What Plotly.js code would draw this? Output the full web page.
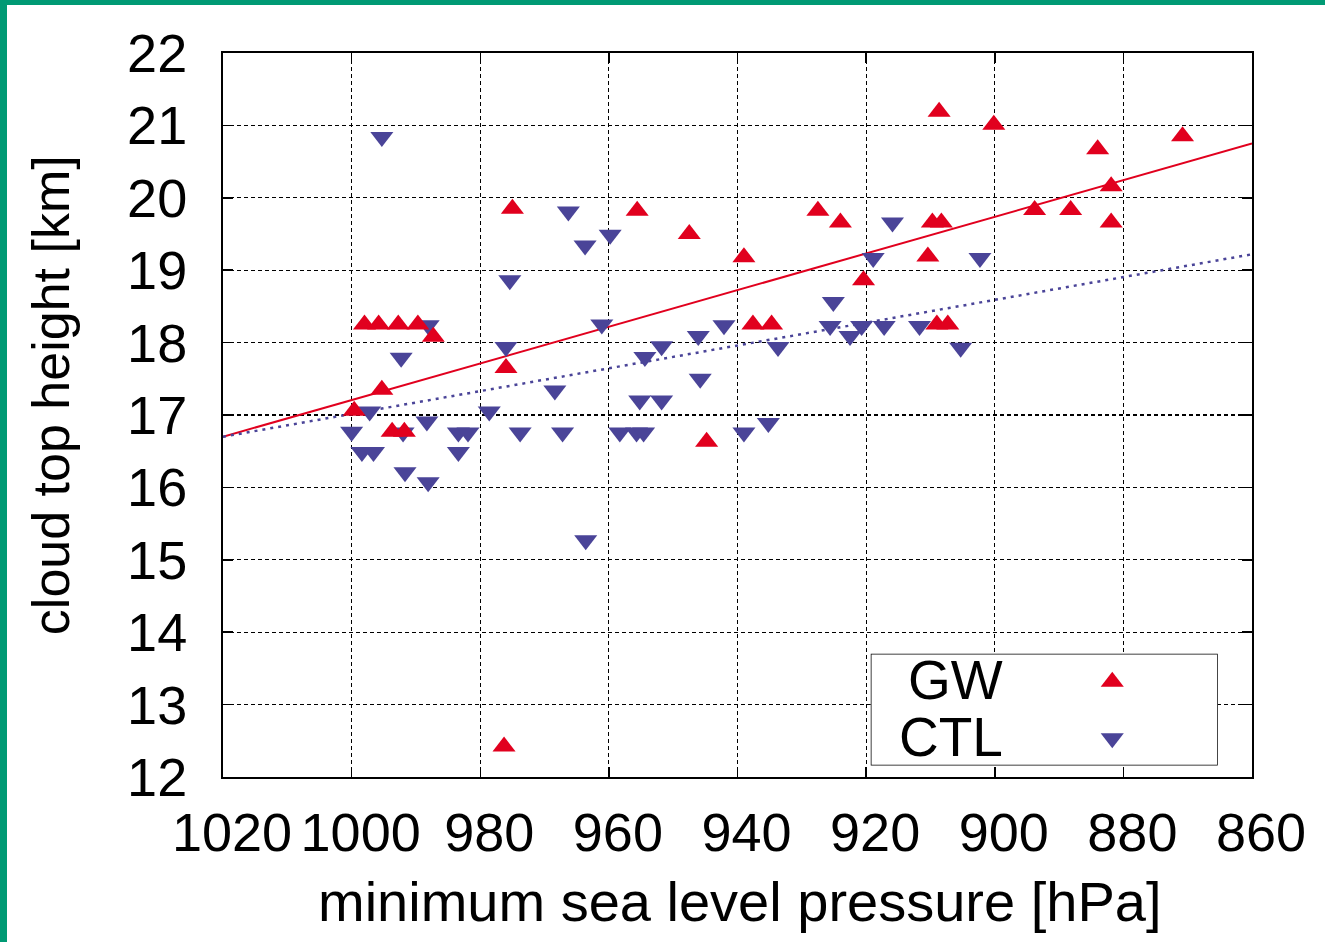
<!DOCTYPE html>
<html>
<head>
<meta charset="utf-8">
<script src="https://cdn.plot.ly/plotly-3.0.1.min.js"></script>
<style>
  html, body { margin: 0; padding: 0; background: #fff; }
  #wrap { position: relative; width: 1325px; height: 942px; overflow: hidden; }
  #chart { width: 1325px; height: 942px; }
  .bar-left { position: absolute; left: 0; top: 0; width: 7px; height: 942px; background: #009a74; }
  .bar-top { position: absolute; left: 0; top: 0; width: 1325px; height: 5px; background: #009a74; }
</style>
</head>
<body>
<div id="wrap">
  <div id="chart"></div>
  <div class="bar-left"></div>
  <div class="bar-top"></div>
</div>
<script>
// ---- data ----
const seriesNames = ["GW", "CTL"];

const gwPressure = [975.0, 998.0, 995.8, 992.75, 989.7, 987.3, 976.0, 995.3, 999.6, 993.7, 991.8,
  955.6, 947.5, 939.0, 937.6, 934.7, 927.5, 924.0, 920.4, 944.8,
  908.65, 900.15, 884.0, 870.8, 881.9, 893.8, 888.2, 881.9, 909.7, 908.3, 910.4, 909.0, 907.3, 976.3];
const gwHeight = [19.85, 18.25, 18.25, 18.25, 18.25, 18.08, 17.65, 17.35, 17.06, 16.77, 16.77,
  19.82, 19.50, 19.18, 18.25, 18.25, 19.82, 19.66, 18.86, 16.63,
  21.19, 21.01, 20.67, 20.85, 20.16, 19.83, 19.83, 19.66, 19.66, 19.66, 19.19, 18.25, 18.25, 12.42];

const ctlPressure = [1000.0, 998.4, 996.6, 997.2, 995.3, 992.3, 992.0, 991.7, 988.3, 988.1, 988.1,
  983.4, 981.9, 983.4, 978.6, 976.0, 975.4, 973.8, 968.4, 967.2, 966.3, 963.7, 963.6, 961.1, 959.8,
  958.3, 955.7, 954.6, 955.2, 951.8, 954.4, 951.8, 946.1, 945.8, 942.1, 939.0, 935.2, 933.7,
  925.1, 925.6, 922.5, 920.7, 917.2, 918.9, 915.9, 911.7, 905.3, 902.3];
const ctlHeight = [16.77, 16.49, 16.49, 17.05, 20.84, 17.79, 16.76, 16.21, 16.91, 16.07, 18.24,
  16.76, 16.76, 16.49, 17.05, 17.94, 18.86, 16.76, 17.34, 16.76, 19.81, 19.34, 15.27, 18.25, 19.49,
  16.76, 16.76, 16.76, 17.20, 17.20, 17.80, 17.95, 18.09, 17.50, 18.24, 16.76, 16.89, 17.94,
  18.56, 18.23, 18.09, 18.23, 18.23, 19.17, 19.66, 18.23, 17.93, 19.17];

// linear fit lines (end points)
const fitPressure = [1020, 860];
const gwFitHeight = [16.70, 20.75];
const ctlFitHeight = [16.70, 19.22];

const xTickVals = [1020, 1000, 980, 960, 940, 920, 900, 880, 860];
const yTickVals = [12, 13, 14, 15, 16, 17, 18, 19, 20, 21, 22];
const xTitle = "minimum sea level pressure [hPa]";
const yTitle = "cloud top height [km]";

// ---- styles ----
const RED = "#e1001e";
const BLUE = "#4a4498";
const FONT = "Liberation Sans, Arial, Helvetica, sans-serif";
const MS = 20;

const traces = [
  { x: fitPressure, y: gwFitHeight, mode: "lines", line: { color: RED, width: 2 }, hoverinfo: "skip", showlegend: false },
  { x: fitPressure, y: ctlFitHeight, mode: "lines", line: { color: BLUE, width: 2.5, dash: "3px,5px" }, hoverinfo: "skip", showlegend: false },
  { x: ctlPressure, y: ctlHeight, mode: "markers", name: seriesNames[1],
    marker: { symbol: "triangle-down", size: MS, color: BLUE, line: { width: 0 } }, showlegend: false },
  { x: gwPressure, y: gwHeight, mode: "markers", name: seriesNames[0],
    marker: { symbol: "triangle-up", size: MS, color: RED, line: { width: 0 } }, showlegend: false },
  // legend keys in a hidden overlay subplot
  { x: [0.696], y: [0.749], xaxis: "x2", yaxis: "y2", mode: "markers", hoverinfo: "skip", showlegend: false,
    marker: { symbol: "triangle-up", size: MS, color: RED, line: { width: 0 } } },
  { x: [0.696], y: [0.244], xaxis: "x2", yaxis: "y2", mode: "markers", hoverinfo: "skip", showlegend: false,
    marker: { symbol: "triangle-down", size: MS, color: BLUE, line: { width: 0 } } }
];

const gridDash = "4px,3px";
const layout = {
  width: 1325, height: 942,
  margin: { l: 223, r: 73, t: 53, b: 165, pad: 0 },
  paper_bgcolor: "#ffffff", plot_bgcolor: "#ffffff",
  font: { family: FONT, color: "#000", size: 54 },
  showlegend: false,
  xaxis: {
    range: [1020, 860], tickvals: xTickVals, ticktext: xTickVals.map(String), tickangle: 0,
    showgrid: true, gridcolor: "#000", gridwidth: 1.2, griddash: gridDash,
    zeroline: false, showline: true, linecolor: "#000", linewidth: 2, mirror: "ticks",
    ticks: "inside", ticklen: 10, tickwidth: 1.5, tickcolor: "#000",
    tickfont: { family: FONT, size: 54, color: "#000" }, ticklabelstandoff: 7, ticklabelshift: -9
  },
  yaxis: {
    range: [12, 22], tickvals: yTickVals, ticktext: yTickVals.map(String),
    showgrid: true, gridcolor: "#000", gridwidth: 1.2, griddash: gridDash,
    zeroline: false, showline: true, linecolor: "#000", linewidth: 2, mirror: "ticks",
    ticks: "inside", ticklen: 10, tickwidth: 1.5, tickcolor: "#000",
    tickfont: { family: FONT, size: 54, color: "#000" }, ticklabelstandoff: 23
  },
  xaxis2: { domain: [0.6295, 0.9667], range: [0, 1], anchor: "y2", visible: false, fixedrange: true },
  yaxis2: { domain: [0.016, 0.1703], range: [0, 1], anchor: "x2", visible: false, fixedrange: true },
  shapes: [
    { type: "rect", xref: "x2", yref: "y2", x0: 0, x1: 1, y0: 0, y1: 1, layer: "below",
      fillcolor: "#ffffff", line: { color: "#000", width: 1.5 } }
  ],
  annotations: [
    { text: xTitle, xref: "paper", yref: "paper", x: 0.5015, y: -0.1725, xanchor: "center", yanchor: "middle",
      showarrow: false, font: { family: FONT, size: 56, color: "#000" } },
    { text: yTitle, xref: "paper", yref: "paper", x: -0.1677, y: 0.528, xanchor: "center", yanchor: "middle",
      textangle: -90, showarrow: false, font: { family: FONT, size: 52, color: "#000" } },
    { text: seriesNames[0], xref: "x2", yref: "y2", x: 0.387, y: 0.761, xanchor: "right", yanchor: "middle",
      showarrow: false, font: { family: FONT, size: 55, color: "#000" } },
    { text: seriesNames[1], xref: "x2", yref: "y2", x: 0.387, y: 0.255, xanchor: "right", yanchor: "middle",
      showarrow: false, font: { family: FONT, size: 55, color: "#000" } }
  ]
};

Plotly.newPlot("chart", traces, layout, { displayModeBar: false, staticPlot: true });
</script>
</body>
</html>
